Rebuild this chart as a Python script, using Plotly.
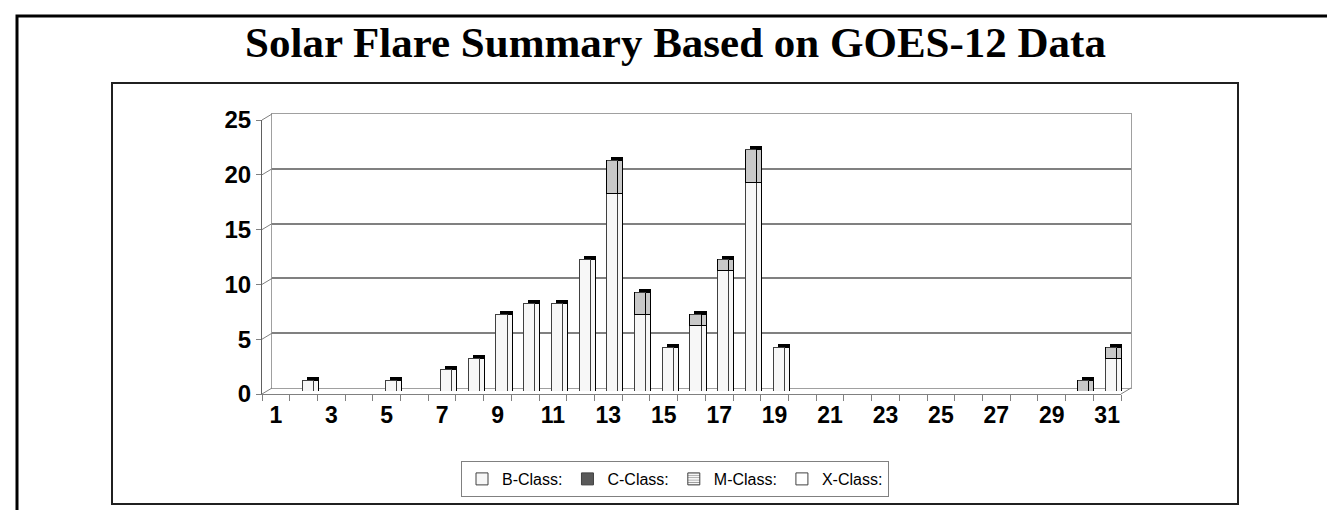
import plotly.graph_objects as go

# ---------------- data ----------------
days = list(range(1, 32))
b_class = [0, 1, 0, 0, 1, 0, 2, 3, 7, 8, 8, 12, 18, 7, 4, 6, 11, 19, 4, 0,
           0, 0, 0, 0, 0, 0, 0, 0, 0, 0, 3]
c_class = [0, 0, 0, 0, 0, 0, 0, 0, 0, 0, 0, 0, 3, 2, 0, 1, 1, 3, 0, 0,
           0, 0, 0, 0, 0, 0, 0, 0, 0, 1, 1]
m_class = [0, 0, 0, 0, 0, 0, 0, 0, 0, 0, 0, 0, 0, 0, 0, 0, 0, 0, 0, 0,
           0, 0, 0, 0, 0, 0, 0, 0, 0, 0, 0]
x_class = [0, 0, 0, 0, 0, 0, 0, 0, 0, 0, 0, 0, 0, 0, 0, 0, 0, 0, 0, 0,
           0, 0, 0, 0, 0, 0, 0, 0, 0, 0, 0]
x_tick_labels = [1, 3, 5, 7, 9, 11, 13, 15, 17, 19, 21, 23, 25, 27, 29, 31]
y_tick_values = [0, 5, 10, 15, 20, 25]
title_text = "Solar Flare Summary Based on GOES-12 Data"

totals = [b + c + m + x for b, c, m, x in zip(b_class, c_class, m_class, x_class)]

# ---------------- geometry (pixels) ----------------
W_FIG, H_FIG = 1335, 510
PL, PT = 254, 106          # plot region left / top
PW, PH = 869, 280          # plot region width / height
LX, LY = 859, 274          # axis lengths
DX, DY = 10, 6             # wall depth


def xd(off):
    return [off / PW, (off + LX) / PW]


def yd(off):
    return [off / PH, (off + LY) / PH]


def px(xp):
    return (xp - PL) / PW


def py(yp):
    return (PT + PH - yp) / PH


BLACK = "#000000"
GRID = "#808080"
B_COL = "#f7f7f7"
C_COL = "#c8c8c8"
FONT = "Liberation Sans"

fig = go.Figure()

# back wall subplot carrier (no visible marks)
fig.add_trace(go.Scatter(x=days, y=totals, xaxis="x", yaxis="y", mode="none",
                         showlegend=False, hoverinfo="skip"))
# copy A: black (forms top faces)
fig.add_trace(go.Bar(x=days, y=totals, xaxis="x2", yaxis="y2", marker=dict(color=BLACK, line=dict(color=BLACK, width=1)),
                     showlegend=False, hoverinfo="skip"))
# copy B: side faces
fig.add_trace(go.Bar(x=days, y=b_class, xaxis="x3", yaxis="y3", marker=dict(color=B_COL, line=dict(color=BLACK, width=1)),
                     showlegend=False, hoverinfo="skip"))
fig.add_trace(go.Bar(x=days, y=c_class, xaxis="x3", yaxis="y3", marker=dict(color=C_COL, line=dict(color=BLACK, width=1)),
                     showlegend=False, hoverinfo="skip"))
# front faces
fig.add_trace(go.Bar(x=days, y=b_class, xaxis="x4", yaxis="y4", name="B-Class:", legendrank=1,
                     marker=dict(color=B_COL, line=dict(color="#404040", width=1))))
fig.add_trace(go.Bar(x=days, y=c_class, xaxis="x4", yaxis="y4", name="C-Class:", showlegend=False,
                     marker=dict(color=C_COL, line=dict(color=BLACK, width=1))))
fig.add_trace(go.Bar(x=days, y=m_class, xaxis="x4", yaxis="y4", name="M-Class:", legendrank=3,
                     marker=dict(color="white", line=dict(color="#404040", width=1),
                                 pattern=dict(shape="-", fgcolor="#404040", bgcolor="white", size=3, solidity=0.4))))
fig.add_trace(go.Bar(x=days, y=x_class, xaxis="x4", yaxis="y4", name="X-Class:", legendrank=4,
                     marker=dict(color="white", line=dict(color="#404040", width=1))))
# legend proxy for C-Class (dark swatch as in the original legend)
fig.add_trace(go.Bar(x=[None], y=[None], xaxis="x5", yaxis="y5", name="C-Class:", legendrank=2,
                     marker=dict(color="#595959", line=dict(color="#404040", width=1))))

hidden = dict(visible=False, range=[0.5, 31.5])
hidden_y = dict(visible=False, range=[0, 25])

shapes = []
# side wall diagonals for each gridline (front axis -> back wall)
for v in y_tick_values:
    f = v / 25 * LY
    shapes.append(dict(type="line", xref="paper", yref="paper",
                       x0=0, y0=f / PH, x1=DX / PW, y1=(DY + f) / PH,
                       line=dict(color=GRID, width=1)))
# floor right diagonal
shapes.append(dict(type="line", xref="paper", yref="paper",
                   x0=LX / PW, y0=0, x1=(LX + DX) / PW, y1=DY / PH,
                   line=dict(color=GRID, width=1)))
# outer frame
shapes.append(dict(type="rect", xref="paper", yref="paper",
                   x0=px(9), x1=px(1328), y0=py(8), y1=py(520),
                   line=dict(color=BLACK, width=3)))
# inner chart frame
shapes.append(dict(type="rect", xref="paper", yref="paper",
                   x0=px(104), x1=px(1230), y0=py(75), y1=py(496),
                   line=dict(color="#202020", width=2)))

fig.update_layout(
    width=W_FIG, height=H_FIG,
    margin=dict(l=PL, r=W_FIG - PL - PW, t=PT, b=H_FIG - PT - PH, pad=0),
    paper_bgcolor="white", plot_bgcolor="rgba(0,0,0,0)",
    barmode="stack", bargap=0.6,
    title=dict(text=title_text, x=0.5, xanchor="center", y=1 - 34 / H_FIG, yanchor="middle",
               font=dict(family="Liberation Serif", size=43, color=BLACK, weight="bold")),
    # back wall
    xaxis=dict(domain=[DX / PW, 1], range=[0.5, 31.5], anchor="y", showgrid=False, showticklabels=False,
               ticks="", showline=True, mirror=True, linecolor="#a0a0a0", linewidth=1, zeroline=False),
    yaxis=dict(domain=[DY / PH, 1], range=[0, 25], anchor="x", tickvals=y_tick_values, showticklabels=False,
               ticks="", showgrid=True, gridcolor=GRID, gridwidth=2, zeroline=False,
               showline=True, mirror=True, linecolor="#a0a0a0", linewidth=1),
    xaxis2=dict(hidden, domain=xd(9), anchor="y2"),
    yaxis2=dict(hidden_y, domain=yd(6), anchor="x2"),
    xaxis3=dict(hidden, domain=xd(9), anchor="y3"),
    yaxis3=dict(hidden_y, domain=yd(3), anchor="x3"),
    xaxis4=dict(hidden, domain=xd(4), anchor="y4"),
    yaxis4=dict(hidden_y, domain=yd(3), anchor="x4"),
    # front axes with labels
    xaxis5=dict(domain=xd(0), range=[0.5, 31.5], anchor="y5", tickvals=x_tick_labels,
                ticktext=[str(t) for t in x_tick_labels], ticks="", ticklabelstandoff=0,
                tickfont=dict(family=FONT, size=23, color=BLACK, weight="bold"),
                showgrid=False, zeroline=False, showline=True, linecolor=GRID, linewidth=1,
                minor=dict(tickvals=[d - 0.5 for d in days] + [31.5], ticks="outside", ticklen=6,
                           tickcolor=GRID, tickwidth=1, showgrid=False)),
    yaxis5=dict(domain=yd(0), range=[0, 25], anchor="x5", tickvals=y_tick_values, ticks="outside",
                ticklen=5, tickcolor=GRID, tickwidth=1,
                tickfont=dict(family=FONT, size=24, color=BLACK, weight="bold"),
                showgrid=False, zeroline=False, showline=True, linecolor="#606060", linewidth=1),
    legend=dict(orientation="h", x=px(667), xanchor="center", y=py(453), yanchor="top",
                bgcolor="white", bordercolor=GRID, borderwidth=1, itemwidth=30,
                font=dict(family=FONT, size=16, color=BLACK), traceorder="normal"),
    shapes=shapes,
    showlegend=True,
)

fig.write_html("out.html")
